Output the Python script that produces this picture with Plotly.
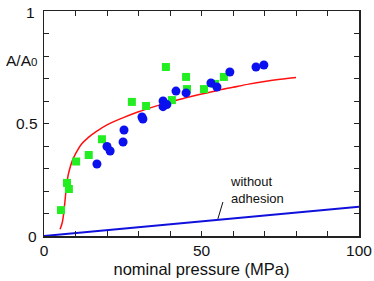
import plotly.graph_objects as go

# Green squares (experiment set 1)
sq_x = [5.4, 7.3, 7.9, 10.2, 14.2, 18.4, 27.9, 32.4, 38.7, 40.6, 45.1, 45.4, 50.8, 54.3, 57.1]
sq_y = [0.115, 0.236, 0.209, 0.331, 0.36, 0.43, 0.596, 0.578, 0.751, 0.604, 0.707, 0.653, 0.653, 0.676, 0.707]

# Blue circles (experiment set 2)
ci_x = [16.8, 20.0, 21.0, 25.1, 25.4, 31.1, 31.4, 37.8, 37.8, 39.0, 41.9, 45.1, 53.0, 54.9, 59.0, 67.3, 69.8]
ci_y = [0.32, 0.398, 0.378, 0.418, 0.471, 0.529, 0.52, 0.6, 0.575, 0.584, 0.644, 0.636, 0.68, 0.662, 0.729, 0.751, 0.76]

# Red theory curve (with adhesion)
red_x = [5.1, 5.8, 6.4, 6.9, 7.4, 8.0, 9.0, 10.0, 12.0, 14.0, 17.0, 20.0, 25.0, 30.0, 35.0, 40.0, 45.0, 50.0, 55.0, 60.0, 65.0, 70.0, 75.0, 80.0]
red_y = [0.03, 0.06, 0.12, 0.19, 0.25, 0.29, 0.335, 0.365, 0.41, 0.437, 0.468, 0.494, 0.525, 0.552, 0.575, 0.596, 0.614, 0.631, 0.647, 0.661, 0.675, 0.687, 0.697, 0.705]

# Blue line (without adhesion)
line_x = [0, 100]
line_y = [0.0, 0.13]

x_ticks = [0, 10, 20, 30, 40, 50, 60, 70, 80, 90, 100]
x_ticktext = ["0", "", "", "", "", "50", "", "", "", "", "100"]
y_ticks = [0, 0.1, 0.2, 0.3, 0.4, 0.5, 0.6, 0.7, 0.8, 0.9, 1.0]

FONT = "Liberation Sans, Arial, sans-serif"

fig = go.Figure()
fig.add_trace(go.Scatter(x=line_x, y=line_y, mode="lines",
                         line=dict(color="#1010dd", width=2), showlegend=False))
fig.add_trace(go.Scatter(x=red_x, y=red_y, mode="lines", line_shape="spline",
                         line=dict(color="#ff1010", width=1.5), showlegend=False))
fig.add_trace(go.Scatter(x=sq_x, y=sq_y, mode="markers",
                         marker=dict(symbol="square", size=8, color="#22ee22", line=dict(width=0)),
                         showlegend=False))
fig.add_trace(go.Scatter(x=ci_x, y=ci_y, mode="markers",
                         marker=dict(symbol="circle", size=9, color="#0a10ee", line=dict(width=0)),
                         showlegend=False))

axis_common = dict(showgrid=False, zeroline=False, mirror="ticks", showline=True,
                   linecolor="#222", linewidth=1.5, ticks="inside", ticklen=5,
                   tickcolor="#222", tickwidth=1, fixedrange=True)

fig.update_xaxes(range=[0, 100], tickvals=x_ticks, ticktext=x_ticktext,
                 tickfont=dict(family=FONT, size=15.5, color="#111"),
                 title=dict(text="nominal pressure (MPa)", font=dict(family=FONT, size=16.5, color="#111"),
                            standoff=5),
                 **axis_common)
fig.update_yaxes(range=[0, 1], tickvals=y_ticks, showticklabels=False, **axis_common)

lab_font = dict(family=FONT, size=15.5, color="#111")
annots = [
    dict(x=0, y=1, xref="paper", yref="y", text="1", xanchor="right", yanchor="middle",
         xshift=-7, yshift=-1, showarrow=False, font=lab_font),
    dict(x=0, y=0.5, xref="paper", yref="y", text="0.5", xanchor="right", yanchor="middle",
         xshift=-4, showarrow=False, font=lab_font),
    dict(x=0, y=0.0, xref="paper", yref="y", text="0", xanchor="right", yanchor="middle",
         xshift=-5, showarrow=False, font=lab_font),
    dict(x=0, y=0.778, xref="paper", yref="y",
         text="A/A<span style='font-size:11.5px'>0</span>", xanchor="right", yanchor="middle",
         xshift=-5, showarrow=False, font=dict(family=FONT, size=15.5, color="#111")),
    dict(x=58.5, y=0.205, xref="x", yref="y", text="without<br>adhesion", xanchor="left",
         yanchor="middle", align="left", showarrow=False,
         font=dict(family=FONT, size=13, color="#111")),
]
fig.update_layout(
    width=374, height=281,
    margin=dict(l=44, r=15, t=11, b=45, autoexpand=False),
    paper_bgcolor="white", plot_bgcolor="white",
    annotations=annots,
    shapes=[dict(type="line", xref="x", yref="y", x0=55.2, y0=0.076, x1=56.8, y1=0.151,
                 line=dict(color="#111", width=1))],
)

fig.write_html("out.html",
               config={"displayModeBar": False, "staticPlot": True},
               post_script="document.body.style.margin='0';document.body.style.overflow='hidden';")
